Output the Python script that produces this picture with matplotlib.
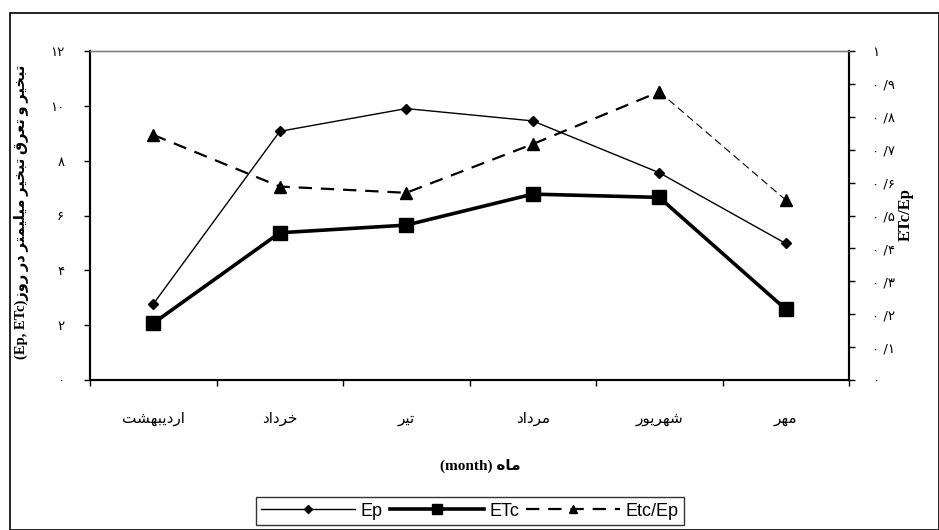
import matplotlib
matplotlib.use('Agg')
import matplotlib.pyplot as plt
from matplotlib.patches import Rectangle

###############################################################################
# Data
###############################################################################

months = ['اردیبهشت', 'خرداد', 'تیر', 'مرداد', 'شهریور', 'مهر']
ep = [2.77, 9.07, 9.90, 9.45, 7.56, 4.98]
etc = [2.07, 5.37, 5.65, 6.78, 6.66, 2.58]
etc_ep = [0.745, 0.588, 0.569, 0.717, 0.876, 0.547]

left_ticks = [0, 2, 4, 6, 8, 10, 12]
right_ticks = [0, 0.1, 0.2, 0.3, 0.4, 0.5, 0.6, 0.7, 0.8, 0.9, 1.0]

ylabel_fa = 'تبخیر و تعرق تبخیر میلیمتر در روز'
xlabel_fa = 'ماه'

###############################################################################
# Tiny Arabic/Persian shaper (matplotlib has no text shaping)
###############################################################################

FORMS = {
    'ا': ('\uFE8D', '\uFE8E', None, None),
    'ب': ('\uFE8F', '\uFE90', '\uFE91', '\uFE92'),
    'ت': ('\uFE95', '\uFE96', '\uFE97', '\uFE98'),
    'خ': ('\uFEA5', '\uFEA6', '\uFEA7', '\uFEA8'),
    'د': ('\uFEA9', '\uFEAA', None, None),
    'ر': ('\uFEAD', '\uFEAE', None, None),
    'ز': ('\uFEAF', '\uFEB0', None, None),
    'ش': ('\uFEB5', '\uFEB6', '\uFEB7', '\uFEB8'),
    'ع': ('\uFEC9', '\uFECA', '\uFECB', '\uFECC'),
    'ق': ('\uFED5', '\uFED6', '\uFED7', '\uFED8'),
    'ل': ('\uFEDD', '\uFEDE', '\uFEDF', '\uFEE0'),
    'م': ('\uFEE1', '\uFEE2', '\uFEE3', '\uFEE4'),
    'ه': ('\uFEE9', '\uFEEA', '\uFEEB', '\uFEEC'),
    'و': ('\uFEED', '\uFEEE', None, None),
    'ی': ('\uFBFC', '\uFBFD', '\uFBFE', '\uFBFF'),
}


def rtl(text):
    out = []
    for i, ch in enumerate(text):
        if ch not in FORMS:
            out.append(ch)
            continue
        prev = text[i - 1] if i > 0 else ''
        nxt = text[i + 1] if i < len(text) - 1 else ''
        join_prev = prev in FORMS and FORMS[prev][2] is not None
        join_next = FORMS[ch][2] is not None and nxt in FORMS
        iso, fin, ini, med = FORMS[ch]
        if join_prev and join_next:
            out.append(med)
        elif join_prev:
            out.append(fin)
        elif join_next:
            out.append(ini)
        else:
            out.append(iso)
    return ''.join(reversed(out))


FA_DIGITS = str.maketrans('0123456789', '۰۱۲۳۴۵۶۷۸۹')


def fa_num(v):
    if v == int(v):
        return str(int(v)).translate(FA_DIGITS)
    # decimal written as ۰/۹
    return ('0 /' + str(int(round(v * 10)))).translate(FA_DIGITS)


###############################################################################
# Figure
###############################################################################

W, H = 939, 530
fig = plt.figure(figsize=(W / 100, H / 100), dpi=100)
ax = fig.add_axes([90 / W, 1 - 380 / H, (849 - 90) / W, (380 - 51) / H])
ax2 = ax.twinx()

x = list(range(len(months)))

ax.plot(x, ep, color='black', lw=1, marker='D', markersize=5, label='Ep', zorder=3)
ax.plot(x, etc, color='black', lw=2.6, marker='s', markersize=10, label='ETc', zorder=3)
ax2.plot(x[:5], etc_ep[:5], color='black', lw=1.6, ls=(0, (6, 4)), marker='^',
         markersize=8, label='Etc/Ep', zorder=3)
ax2.plot(x[4:], etc_ep[4:], color='black', lw=0.8, ls=(0, (7, 4)), marker='^',
         markersize=8, zorder=3)

ax.set_xlim(-0.5, len(months) - 0.5)
ax.set_ylim(0, 12)
ax2.set_ylim(0, 1)

ax.set_xticks([i - 0.5 for i in range(len(months) + 1)])
ax.set_xticklabels([])
ax.set_xticks(x, minor=True)
ax.set_xticklabels([rtl(m) for m in months], minor=True, fontsize=11,
                   family='DejaVu Sans')
ax.tick_params(axis='x', which='major', direction='out', length=4.5, width=1)
ax.tick_params(axis='x', which='minor', length=0, pad=22)

ax.set_yticks(left_ticks)
ax.set_yticklabels([fa_num(v) for v in left_ticks], fontsize=9.5, family='DejaVu Sans')
ax.tick_params(axis='y', direction='out', length=4.5, width=1, pad=14)

ax2.set_yticks(right_ticks)
ax2.set_yticklabels([fa_num(v) for v in right_ticks], fontsize=9.5, family='DejaVu Sans')
ax2.tick_params(axis='y', direction='out', length=4.5, width=1, pad=12)

for a in (ax, ax2):
    a.spines['top'].set_color('#808080')
    a.spines['top'].set_linewidth(1)
    a.spines['left'].set_linewidth(1.5)
    a.spines['right'].set_linewidth(1.5)
    a.spines['bottom'].set_linewidth(1.5)

# axis titles
fig.text(22 / W, 1 - 212 / H, '(Ep, ETc)' + rtl(ylabel_fa), rotation=90,
         ha='center', va='center', fontsize=10.5, fontweight='bold',
         family=['Liberation Serif', 'DejaVu Sans'])
fig.text(906 / W, 1 - 215 / H, 'ETc/Ep', rotation=90, ha='center', va='center',
         fontsize=12, fontweight='bold', family='Liberation Serif')
fig.text(480 / W, 1 - 466 / H, '(month) ' + rtl(xlabel_fa), ha='center', va='center',
         fontsize=11, fontweight='bold', family=['Liberation Serif', 'DejaVu Sans'])

# legend
h1, l1 = ax.get_legend_handles_labels()
h2, l2 = ax2.get_legend_handles_labels()
leg = fig.legend(h1 + h2, l1 + l2, loc='center', bbox_to_anchor=(470 / W, 1 - 511 / H),
                 ncol=3, frameon=True, fancybox=False, handlelength=5.2,
                 markerscale=0.75, columnspacing=0.4, handletextpad=0.3,
                 borderpad=0.3, prop={'family': 'Liberation Sans', 'size': 13})
leg.get_frame().set_edgecolor('black')
leg.get_frame().set_linewidth(1)

# outer chart border
fig.patches.append(Rectangle((10 / W, 0), 1 - 10 / W - 0.5 / W, 1 - 13 / H,
                             transform=fig.transFigure, fill=False,
                             edgecolor='black', lw=1.2))

fig.savefig('out.png', dpi=100)
